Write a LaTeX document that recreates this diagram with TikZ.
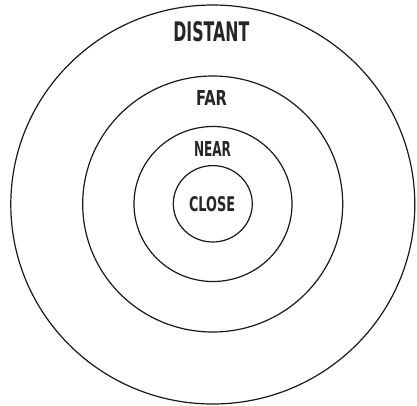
\documentclass[tikz,border=0pt]{standalone}
\usepackage{fontspec}
\setmainfont{DejaVu Sans}
\usepackage{graphicx}
\begin{document}
\begin{tikzpicture}[x=1pt,y=-1pt,
  ring/.style={draw=black!90,line width=1.2pt},
  lbl/.style={inner sep=0pt,text=black!85}]
\useasboundingbox (0,0) rectangle (417,405);
\draw[ring] (212.8,204.5) ellipse [x radius=202,y radius=199.5];
\draw[ring] (212.7,204) ellipse [x radius=130,y radius=128];
\draw[ring] (213,204) ellipse [x radius=79,y radius=77.5];
\draw[ring] (212.8,203.8) ellipse [x radius=39.5,y radius=38.2];
\node[lbl] (distant) at (211.3,31.7) {\resizebox{76pt}{20pt}{\bfseries DISTANT}};
\node[lbl] (far) at (211.5,97.5) {\resizebox{31pt}{15pt}{\bfseries FAR}};
\node[lbl] (near) at (212.5,148.5) {\resizebox{37pt}{15pt}{\bfseries NEAR}};
\node[lbl] (close) at (212,204.5) {\resizebox{46pt}{15pt}{\bfseries CLOSE}};
\end{tikzpicture}
\end{document}
